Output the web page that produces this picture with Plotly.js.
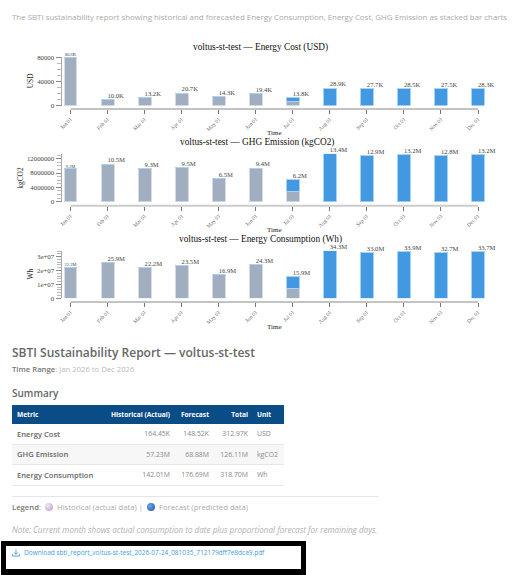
<!DOCTYPE html>
<html><head><meta charset="utf-8">
<script src="https://cdn.plot.ly/plotly-3.0.1.min.js"></script>
<style>
html,body{margin:0;padding:0;background:#fff;width:521px;height:575px;overflow:hidden;font-family:"Open Sans",sans-serif}
.t{position:absolute;white-space:nowrap;line-height:1}
.c{position:absolute;left:0;width:521px}
table{position:absolute;left:12px;top:405px;width:272px;border-collapse:collapse;table-layout:fixed;font-size:6.9px;color:#888}
th{background:#0a4c85;color:#fff;font-weight:700;height:19px;padding:0 5px 0 0;text-align:right;font-size:6.6px;white-space:nowrap}
td{padding:0 5px 0 0;text-align:right;border-bottom:1px solid #e6e6e6;height:19.6px;white-space:nowrap}
th:first-child,td:first-child{text-align:left;padding-left:5px}
td:first-child{font-size:7.6px;font-weight:600;color:#666}
th:last-child,td:last-child{text-align:left;padding-left:4px}
tr:nth-child(3) td{background:#f7f7f7}
</style></head><body>
<div class="t" style="left:12px;top:14px;font-size:7.9px;color:#aaa">The SBTI sustainability report showing historical and forecasted Energy Consumption, Energy Cost, GHG Emission as stacked bar charts</div>
<div id="c1" class="c"></div><div id="c2" class="c"></div><div id="c3" class="c"></div>
<div class="t" style="left:12px;top:347px;font-size:12px;font-weight:600;color:#666">SBTI Sustainability Report — voltus-st-test</div>
<div class="t" style="left:12px;top:366px;font-size:7.7px;color:#bbb"><b style="font-weight:600;color:#777">Time Range</b>: Jan 2026 to Dec 2026</div>
<div class="t" style="left:12px;top:388px;font-size:10px;font-weight:600;color:#666">Summary</div>
<table id="tb"></table>
<div style="position:absolute;left:12px;top:496px;width:366px;height:1px;background:#e4e6ec"></div>
<div class="t" style="left:12px;top:503px;font-size:7.7px;color:#aaa"><b style="font-weight:600;color:#777">Legend</b>: <span style="display:inline-block;width:8px;height:8px;border-radius:50%;background:radial-gradient(circle at 35% 35%,#efe6f5,#b49bc8);vertical-align:-1px;margin:0 2px"></span> Historical (actual data) | <span style="display:inline-block;width:8px;height:8px;border-radius:50%;background:radial-gradient(circle at 35% 35%,#6fa3e8,#1f55b5);vertical-align:-1px;margin:0 2px"></span> Forecast (predicted data)</div>
<div class="t" style="left:12px;top:526px;font-size:8.1px;font-style:italic;color:#b0b0b0">Note: Current month shows actual consumption to date plus proportional forecast for remaining days.</div>
<div style="position:absolute;left:1px;top:541px;width:305px;height:34px;box-sizing:border-box;border:5px solid #000;border-bottom-width:6px"></div>
<svg style="position:absolute;left:12px;top:549px" width="8" height="8" viewBox="0 0 9 9" fill="none" stroke="#4a9ad8" stroke-width="1"><path d="M4.5 0.5V6M2.3 3.8L4.5 6L6.7 3.8M0.7 5.5V8H8.3V5.5"/></svg>
<div class="t" style="left:24px;top:550px;font-size:6.5px;color:#3f9be0">Download sbti_report_voltus-st-test_2026-07-24_081035_712179dff7e8dca9.pdf</div>
<script>
const months = ["Jan 01","Feb 01","Mar 01","Apr 01","May 01","Jun 01","Jul 01","Aug 01","Sep 01","Oct 01","Nov 01","Dec 01"];

const costHistorical = [80600,10000,13200,20700,14300,19400,6200,0,0,0,0,0];
const costForecast   = [0,0,0,0,0,0,7600,28900,27700,28500,27500,28300];
const costLabels = ["80.6K","10.0K","13.2K","20.7K","14.3K","19.4K","13.8K","28.9K","27.7K","28.5K","27.5K","28.3K"];

const ghgHistorical = [9200000,10500000,9300000,9500000,6500000,9400000,2800000,0,0,0,0,0];
const ghgForecast   = [0,0,0,0,0,0,3400000,13400000,12900000,13200000,12800000,13200000];
const ghgLabels = ["9.2M","10.5M","9.3M","9.5M","6.5M","9.4M","6.2M","13.4M","12.9M","13.2M","12.8M","13.2M"];

const energyHistorical = [22200000,25900000,22200000,23500000,16900000,24300000,6800000,0,0,0,0,0];
const energyForecast   = [0,0,0,0,0,0,9100000,34300000,33000000,33900000,32700000,33700000];
const energyLabels = ["22.2M","25.9M","22.2M","23.5M","16.9M","24.3M","15.9M","34.3M","33.0M","33.9M","32.7M","33.7M"];

const tableHeader = ["Metric","Historical (Actual)","Forecast","Total","Unit"];
const tableRows = [
  ["Energy Cost","164.45K","148.52K","312.97K","USD"],
  ["GHG Emission","57.23M","68.88M","126.11M","kgCO2"],
  ["Energy Consumption","142.01M","176.69M","318.70M","Wh"]
];
const colWidths = [96,67,39,39,31];

document.getElementById('tb').innerHTML =
  '<colgroup>'+colWidths.map(w=>`<col style="width:${w}px">`).join('')+'</colgroup>'+
  '<tr>'+tableHeader.map(h=>`<th>${h}</th>`).join('')+'</tr>'+
  tableRows.map(r=>'<tr>'+r.map(c=>`<td>${c}</td>`).join('')+'</tr>').join('');

const W = 521, SERIF = '"Liberation Serif",serif';
const PAD = 0.4, STEP = (478-70.5)/11;
function chart(id, o){
  const H = o.bottom - o.top, py = v => 1-(v-o.top)/H;
  const totals = o.hist.map((h,i)=>h+o.fore[i]);
  const el = document.getElementById(id);
  el.style.top = o.top+'px'; el.style.height = H+'px';
  const bar = (y,c,lc)=>({type:'bar',x:months,y:y,width:0.35,cliponaxis:false,
    marker:{color:c,line:{color:lc,width:1}},hoverinfo:'skip'});
  const traces = [
    bar(o.hist,'#a0aec0','#d5dce6'),
    bar(o.fore,'#4299e1','#a9d3f3'),
    {type:'scatter',mode:'text',x:months,y:totals,text:o.labels,cliponaxis:false,
     textposition:months.map((m,i)=>i===0?'top center':'top right'),
     textfont:{family:SERIF,size:months.map((m,i)=>i===0?4.5:6.6),color:'#444'},hoverinfo:'skip'}
  ];
  const layout = {
    width:W,height:H,margin:{l:0,r:0,t:0,b:0},paper_bgcolor:'rgba(0,0,0,0)',plot_bgcolor:'rgba(0,0,0,0)',
    barmode:'stack',showlegend:false,
    xaxis:{type:'category',categoryorder:'array',categoryarray:months,range:[-PAD,11+PAD],
      domain:[(70.5-PAD*STEP)/W,(478+PAD*STEP)/W],anchor:'free',position:py(o.axisY),
      showgrid:false,zeroline:false,showline:false,
      ticks:'outside',ticklen:4,tickcolor:'#777',tickwidth:1,tickangle:-45,
      tickfont:{family:SERIF,size:5.4,color:'#666'},automargin:false},
    yaxis:{range:[0,o.ymax],domain:[py(o.yZero),py(o.yTop)],anchor:'free',position:60.5/W,
      showgrid:false,zeroline:false,showline:true,linecolor:'#aaa',linewidth:1,
      tickvals:o.tickvals,ticktext:o.ticktext,ticks:'outside',ticklen:5,tickcolor:'#888',
      tickfont:{family:SERIF,size:6.8,color:'#444'},automargin:false,
      minor:{dtick:o.minor,ticks:'outside',ticklen:4,tickcolor:'#bbb',showgrid:false}},
    shapes:[{type:'line',xref:'x',yref:'paper',x0:months[0],x1:months[11],y0:py(o.axisY),y1:py(o.axisY),
      line:{color:o.xc,width:o.xw}}],
    annotations:[
      {xref:'paper',yref:'paper',x:o.titleX/W,y:py(o.titleY),text:o.title,showarrow:false,xanchor:'center',yanchor:'middle',
       font:{family:SERIF,size:9.3,color:'#111'}},
      {xref:'paper',yref:'paper',x:274/W,y:py(o.timeY),text:'Time',showarrow:false,xanchor:'center',yanchor:'middle',
       font:{family:SERIF,size:7,color:'#222'}},
      {xref:'paper',yref:'paper',x:o.ytX/W,y:py((o.yTop+o.yZero)/2),text:o.ytitle,showarrow:false,textangle:-90,xanchor:'center',yanchor:'middle',
       font:{family:SERIF,size:7.4,color:'#222'}}
    ]
  };
  Plotly.newPlot(el,traces,layout,{displayModeBar:false,staticPlot:true});
}
chart('c1',{top:38,bottom:140,hist:costHistorical,fore:costForecast,labels:costLabels,
  yTop:57,yZero:105.5,axisY:109,ymax:80600,xc:'#888',xw:1,tickvals:[0,40000,80000],ticktext:['0','40000','80000'],minor:10000,
  title:'voltus-st-test — Energy Cost (USD)',titleX:260,titleY:48,timeY:133,ytitle:'USD',ytX:30});
chart('c2',{top:136,bottom:236,hist:ghgHistorical,fore:ghgForecast,labels:ghgLabels,
  yTop:153.7,yZero:201.7,axisY:205.7,ymax:13400000,xc:'#ccc',xw:2,tickvals:[0,4000000,8000000,12000000],ticktext:['0','4000000','8000000','12000000'],minor:1000000,
  title:'voltus-st-test — GHG Emission (kgCO2)',titleX:257,titleY:142,timeY:230,ytitle:'kgCO2',ytX:21});
chart('c3',{top:232,bottom:335,hist:energyHistorical,fore:energyForecast,labels:energyLabels,
  yTop:250.7,yZero:298.3,axisY:302,ymax:34300000,xc:'#888',xw:1,tickvals:[0,10000000,20000000,30000000],ticktext:['0','1e+07','2e+07','3e+07'],minor:2000000,
  title:'voltus-st-test — Energy Consumption (Wh)',titleX:260,titleY:239.5,timeY:327,ytitle:'Wh',ytX:30});
</script>
</body></html>
